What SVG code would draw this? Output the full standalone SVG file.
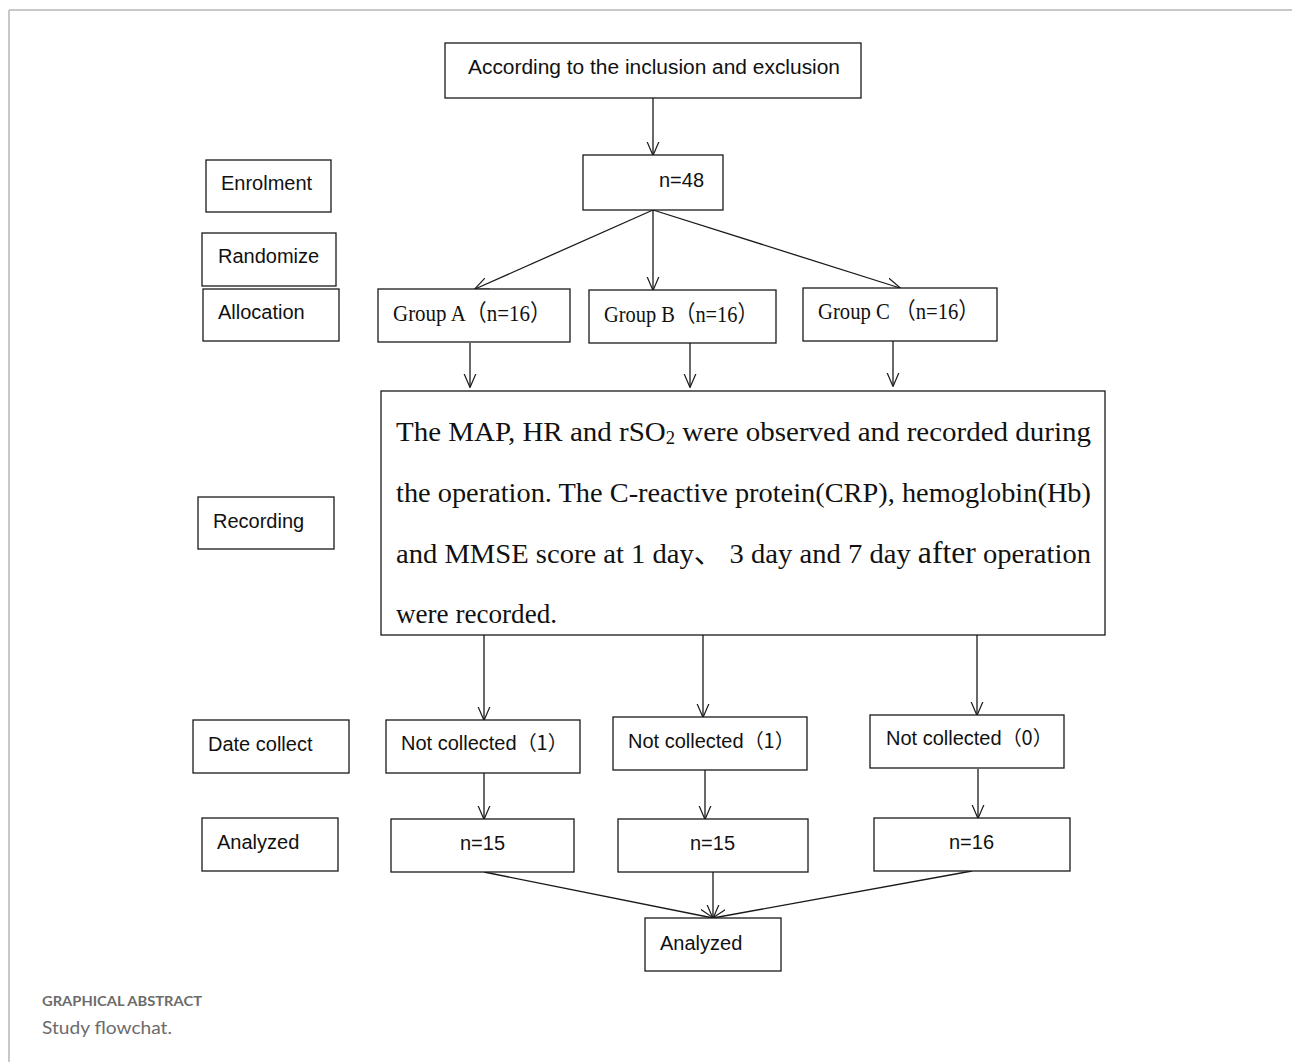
<svg xmlns="http://www.w3.org/2000/svg" width="1292" height="1062" viewBox="0 0 1292 1062">
<defs>
<style>
.box{fill:#fff;stroke:#1a1a1a;stroke-width:1.3}
.sans{font-family:"Liberation Sans",Arial,sans-serif;font-size:20px;fill:#111}
.serif{font-family:"Liberation Serif","Noto Sans CJK SC",serif;fill:#111}
.conn{fill:none;stroke:#1a1a1a;stroke-width:1.3}
.cap{font-family:Lato,"Open Sans",sans-serif;fill:#6b6b6b}
</style>
<marker id="arr" viewBox="0 0 14 14" refX="13.5" refY="7" markerWidth="14" markerHeight="14" markerUnits="userSpaceOnUse" orient="auto">
<path d="M0,1 L14,7 L0,13" fill="none" stroke="#1a1a1a" stroke-width="1.2"/>
</marker>
</defs>
<rect width="1292" height="1062" fill="#fff"/>
<g id="frame">
<line x1="9" y1="10" x2="1292" y2="10" stroke="#c8c8c8" stroke-width="2"/>
<line x1="9" y1="10" x2="9" y2="1062" stroke="#c8c8c8" stroke-width="2"/>
</g>
<g id="connectors">
<line class="conn" x1="653" y1="98" x2="653" y2="155" marker-end="url(#arr)"/>
<line class="conn" x1="653" y1="210" x2="475" y2="289" marker-end="url(#arr)"/>
<line class="conn" x1="653" y1="210" x2="653" y2="290" marker-end="url(#arr)"/>
<line class="conn" x1="653" y1="210" x2="900" y2="288" marker-end="url(#arr)"/>
<line class="conn" x1="470" y1="343" x2="470" y2="387" marker-end="url(#arr)"/>
<line class="conn" x1="690" y1="343" x2="690" y2="387" marker-end="url(#arr)"/>
<line class="conn" x1="893" y1="341" x2="893" y2="386" marker-end="url(#arr)"/>
<line class="conn" x1="484" y1="635" x2="484" y2="720" marker-end="url(#arr)"/>
<line class="conn" x1="703" y1="635" x2="703" y2="717" marker-end="url(#arr)"/>
<line class="conn" x1="977" y1="635" x2="977" y2="715" marker-end="url(#arr)"/>
<line class="conn" x1="484" y1="773" x2="484" y2="819" marker-end="url(#arr)"/>
<line class="conn" x1="705" y1="770" x2="705" y2="819" marker-end="url(#arr)"/>
<line class="conn" x1="978" y1="769" x2="978" y2="818" marker-end="url(#arr)"/>
<line class="conn" x1="484" y1="872" x2="713" y2="918" marker-end="url(#arr)"/>
<line class="conn" x1="713" y1="872" x2="713" y2="918" marker-end="url(#arr)"/>
<line class="conn" x1="972" y1="871" x2="713" y2="918" marker-end="url(#arr)"/>
</g>
<g id="n-according"><rect class="box" x="445" y="43" width="416" height="55"/><text class="sans" x="468" y="74" textLength="372" lengthAdjust="spacingAndGlyphs">According to the inclusion and exclusion</text></g>
<g id="n-48"><rect class="box" x="583" y="155" width="140" height="55"/><text class="sans" x="659" y="187">n=48</text></g>
<g id="n-enrolment"><rect class="box" x="206" y="160" width="125" height="52"/><text class="sans" x="221" y="190">Enrolment</text></g>
<g id="n-randomize"><rect class="box" x="202" y="233" width="134" height="53"/><text class="sans" x="218" y="263">Randomize</text></g>
<g id="n-allocation"><rect class="box" x="203" y="289" width="136" height="52"/><text class="sans" x="218" y="319">Allocation</text></g>
<g id="n-groupA"><rect class="box" x="378" y="289" width="192" height="53"/><text class="serif" font-size="23" x="393" y="321" textLength="158" lengthAdjust="spacingAndGlyphs">Group A（n=16）</text></g>
<g id="n-groupB"><rect class="box" x="589" y="290" width="187" height="53"/><text class="serif" font-size="23" x="604" y="322" textLength="154" lengthAdjust="spacingAndGlyphs">Group B（n=16）</text></g>
<g id="n-groupC"><rect class="box" x="803" y="288" width="194" height="53"/><text class="serif" font-size="23" x="818" y="319" textLength="161" lengthAdjust="spacingAndGlyphs">Group C （n=16）</text></g>
<g id="n-recording-box"><rect class="box" x="381" y="391" width="724" height="244"/>
<text class="serif" font-size="28" x="396" y="441" textLength="695" lengthAdjust="spacingAndGlyphs">The MAP, HR and rSO<tspan font-size="18" dy="3">2</tspan><tspan dy="-3"> were observed and recorded during</tspan></text>
<text class="serif" font-size="28" x="396" y="502" textLength="695" lengthAdjust="spacingAndGlyphs">the operation. The C-reactive protein(CRP), hemoglobin(Hb)</text>
<text class="serif" font-size="28" x="396" y="563" textLength="695" lengthAdjust="spacingAndGlyphs">and MMSE score at 1 day、 3 day and 7 day <tspan font-size="31">after</tspan> operation</text>
<text class="serif" font-size="28" x="396" y="623" textLength="161" lengthAdjust="spacingAndGlyphs">were recorded.</text>
</g>
<g id="n-recording"><rect class="box" x="198" y="497" width="136" height="52"/><text class="sans" x="213" y="528">Recording</text></g>
<g id="n-datecollect"><rect class="box" x="193" y="720" width="156" height="53"/><text class="sans" x="208" y="751">Date collect</text></g>
<g id="n-notA"><rect class="box" x="386" y="720" width="194" height="53"/><text class="sans" x="401" y="750">Not collected<tspan font-family="'Noto Sans CJK SC',sans-serif">（1）</tspan></text></g>
<g id="n-notB"><rect class="box" x="613" y="717" width="194" height="53"/><text class="sans" x="628" y="748">Not collected<tspan font-family="'Noto Sans CJK SC',sans-serif">（1）</tspan></text></g>
<g id="n-notC"><rect class="box" x="870" y="715" width="194" height="53"/><text class="sans" x="886" y="745">Not collected<tspan font-family="'Noto Sans CJK SC',sans-serif">（0）</tspan></text></g>
<g id="n-analyzed-label"><rect class="box" x="202" y="818" width="136" height="53"/><text class="sans" x="217" y="849">Analyzed</text></g>
<g id="n-15a"><rect class="box" x="391" y="819" width="183" height="53"/><text class="sans" x="460" y="850">n=15</text></g>
<g id="n-15b"><rect class="box" x="618" y="819" width="190" height="53"/><text class="sans" x="690" y="850">n=15</text></g>
<g id="n-16"><rect class="box" x="874" y="818" width="196" height="53"/><text class="sans" x="949" y="849">n=16</text></g>
<g id="n-analyzed"><rect class="box" x="645" y="918" width="136" height="53"/><text class="sans" x="660" y="950">Analyzed</text></g>
<g id="caption">
<text class="cap" x="42" y="1006" font-size="13.5" font-weight="bold" textLength="160" lengthAdjust="spacingAndGlyphs">GRAPHICAL ABSTRACT</text>
<text class="cap" x="42" y="1034" font-size="18" textLength="130" lengthAdjust="spacingAndGlyphs">Study flowchat.</text>
</g>
</svg>
